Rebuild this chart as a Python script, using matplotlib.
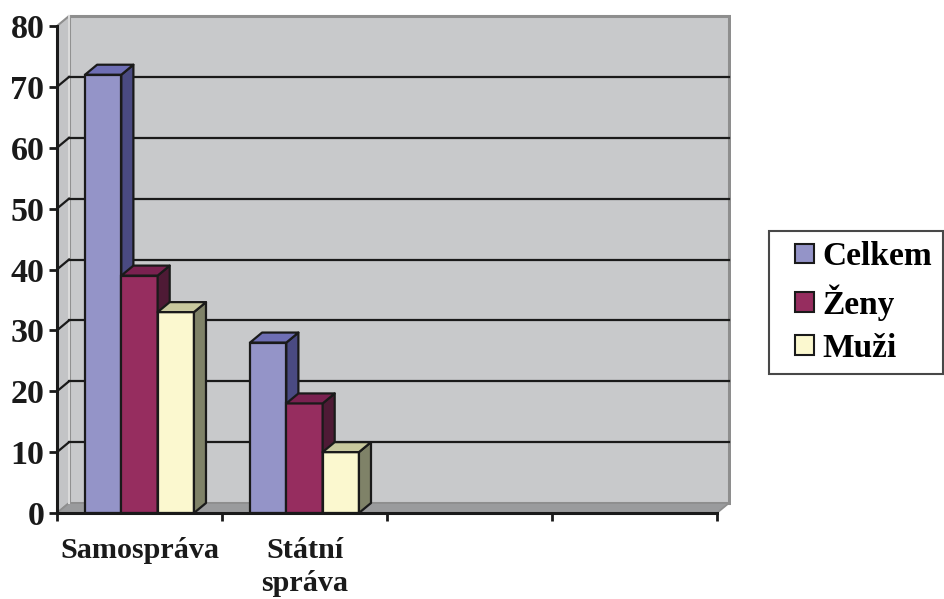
import matplotlib
matplotlib.use("Agg")
import matplotlib.pyplot as plt
from matplotlib.patches import Polygon, Patch, Rectangle
from matplotlib.legend_handler import HandlerPatch

# Data
categories = ["Samospráva", "Státní\nspráva", "", ""]
series_names = ["Celkem", "Ženy", "Muži"]
celkem = [72, 28]
zeny = [39, 18]
muzi = [33, 10]
values = [celkem, zeny, muzi]
y_ticks = [0, 10, 20, 30, 40, 50, 60, 70, 80]

# Styling
front_colors = ["#9494C8", "#962D5F", "#FBF8CF"]
top_colors = ["#6E6EB4", "#7A2150", "#C8C89E"]
side_colors = ["#4A4A82", "#4E1A35", "#7F8268"]
wall_color = "#C8C9CB"
side_wall_color = "#C3C4C6"
floor_color = "#9A9B9D"
wall_edge = "#8E8E8E"
font = ["Liberation Serif", "DejaVu Serif"]

n_cat = len(categories)
ymax = 80
dx, dy = 0.073, 1.64          # depth offset in data units
bar_w = 0.22
group_left = 0.17

fig = plt.figure(figsize=(9.44, 5.99), dpi=100)
ax = fig.add_axes([57 / 944, (599 - 513) / 599, 674 / 944, 82 * 6.0875 / 599])
ax.set_xlim(0, 674 / 165)
ax.set_ylim(0, 82)
ax.patch.set_visible(False)

# Walls and floor
ax.add_patch(Polygon([(dx, dy), (n_cat + dx, dy), (n_cat + dx, ymax + dy), (dx, ymax + dy)],
                     closed=True, facecolor=wall_color, edgecolor=wall_edge, lw=2.2, zorder=0))
ax.add_patch(Polygon([(0, 0), (dx, dy), (dx, ymax + dy), (0, ymax)],
                     closed=True, facecolor=side_wall_color, edgecolor=wall_edge, lw=1.5, zorder=0))
ax.add_patch(Polygon([(0, 0), (n_cat, 0), (n_cat + dx, dy), (dx, dy)],
                     closed=True, facecolor=floor_color, edgecolor=wall_edge, lw=1.2, zorder=0.5))
ax.plot([dx, dx], [dy, ymax + dy], color="#DADADA", lw=1.5, zorder=0.6)

# Gridlines on back and side walls
for v in y_ticks[1:-1]:
    ax.plot([dx, n_cat + dx], [v + dy, v + dy], color="#1A1A1A", lw=1.6, zorder=1)
    ax.plot([0, dx], [v, v + dy], color="#1A1A1A", lw=1.6, zorder=1)

# 3D columns
for k, vals in enumerate(values):
    z = 2 + k
    xs = [i + group_left + k * bar_w for i in range(len(vals))]
    ax.bar(xs, vals, width=bar_w, align="edge", color=front_colors[k],
           edgecolor="#1A1A1A", lw=1.6, zorder=z, clip_on=False)
    for x0, v in zip(xs, vals):
        x1 = x0 + bar_w
        ax.add_patch(Polygon([(x1, 0), (x1 + dx, dy), (x1 + dx, v + dy), (x1, v)], closed=True,
                             facecolor=side_colors[k], edgecolor="#1A1A1A", lw=1.6,
                             joinstyle="round", zorder=z, clip_on=False))
        ax.add_patch(Polygon([(x0, v), (x1, v), (x1 + dx, v + dy), (x0 + dx, v + dy)], closed=True,
                             facecolor=top_colors[k], edgecolor="#1A1A1A", lw=1.6,
                             joinstyle="round", zorder=z, clip_on=False))

# Axes lines and ticks
for s in ["top", "right"]:
    ax.spines[s].set_visible(False)
ax.spines["left"].set_bounds(0, ymax)
ax.spines["bottom"].set_bounds(0, n_cat)
for s in ["left", "bottom"]:
    ax.spines[s].set_linewidth(2.2)
    ax.spines[s].set_color("#1A1A1A")
    ax.spines[s].set_zorder(10)

ax.set_yticks(y_ticks)
ax.set_yticklabels([str(t) for t in y_ticks])
ax.set_xticks(range(n_cat + 1))
ax.set_xticklabels([])
ax.set_xticks([i + 0.5 for i in range(n_cat)], minor=True)
ax.set_xticklabels(categories, minor=True)
ax.tick_params(axis="both", which="major", direction="out", length=6, width=2, color="#1A1A1A")
ax.tick_params(axis="x", which="minor", length=0, pad=17)
ax.tick_params(axis="y", pad=3)
for lab in ax.get_yticklabels():
    lab.set_fontfamily(font)
    lab.set_fontweight("bold")
    lab.set_fontsize(24.5)
    lab.set_color("#1A1A1A")
for lab in ax.get_xticklabels(minor=True):
    lab.set_fontfamily(font)
    lab.set_fontweight("bold")
    lab.set_fontsize(21.7)
    lab.set_color("#1A1A1A")
    lab.set_linespacing(1.3)


# Legend: square keys sitting at the right end of the handle box
def square_key(legend, orig_handle, xdescent, ydescent, width, height, fontsize):
    side = height
    return Rectangle((-xdescent + width - side, -ydescent), side, side)


handles = [Patch(facecolor=c, edgecolor="#1A1A1A", lw=1.5) for c in front_colors]
leg = fig.legend(handles, series_names, loc="center", bbox_to_anchor=(856 / 944, 1 - 302.5 / 599),
                 frameon=True, fancybox=False, handlelength=1.05, handleheight=0.54,
                 handletextpad=0.25, labelspacing=0.36, borderpad=0.3, borderaxespad=0,
                 handler_map={Patch: HandlerPatch(patch_func=square_key)},
                 prop={"family": font, "weight": "bold", "size": 24})
leg.get_frame().set_edgecolor("#1A1A1A")
leg.get_frame().set_linewidth(1.5)

fig.savefig("out.png", dpi=100)
